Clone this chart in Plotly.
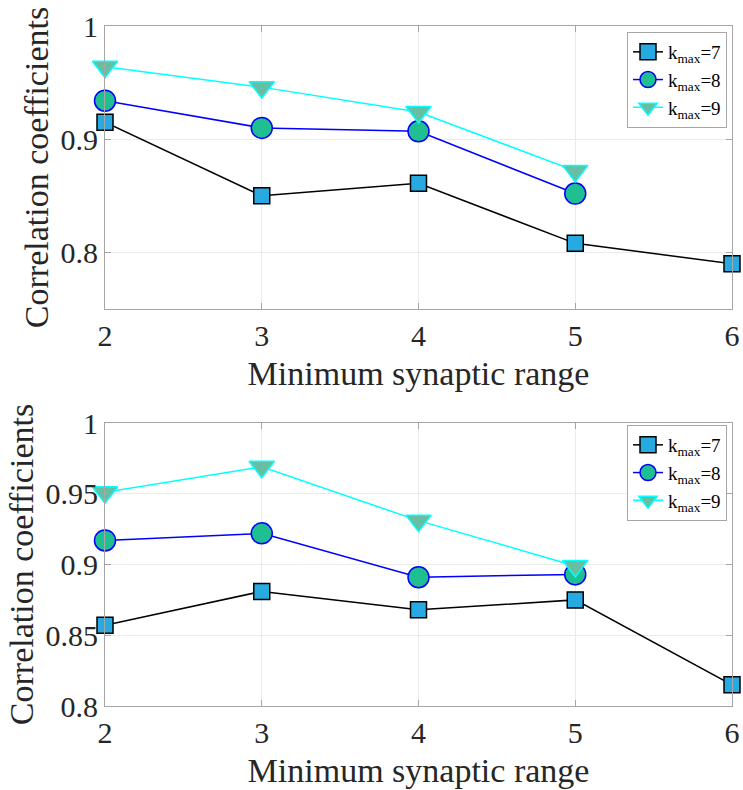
import plotly.graph_objects as go

# ---------------- data ----------------
x_top = [2, 3, 4, 5, 6]
x_short = [2, 3, 4, 5]
top_k7 = [0.915, 0.850, 0.861, 0.808, 0.790]
top_k8 = [0.934, 0.910, 0.907, 0.852]
top_k9 = [0.964, 0.946, 0.924, 0.872]
bot_k7 = [0.857, 0.881, 0.868, 0.875, 0.815]
bot_k8 = [0.917, 0.922, 0.891, 0.893]
bot_k9 = [0.951, 0.969, 0.931, 0.899]
series_names = ["k<sub>max</sub>=7", "k<sub>max</sub>=8", "k<sub>max</sub>=9"]
x_ticks = [2, 3, 4, 5, 6]
top_yticks = [0.8, 0.9, 1.0]
top_yticklabels = ["0.8", "0.9", "1"]
bot_yticks = [0.8, 0.85, 0.9, 0.95, 1.0]
bot_yticklabels = ["0.8", "0.85", "0.9", "0.95", "1"]
x_title = "Minimum synaptic range"
y_title = "Correlation coefficients"

FONT = "Liberation Serif"
TXT = "#262626"
W, H = 743, 790
ML, MR, MT, MB = 105, 11, 26, 84
PH = H - MT - MB

styles = [
    dict(line=dict(color="black", width=1.5),
         marker=dict(symbol="square", size=16, color="#27a9e1",
                     line=dict(color="black", width=1.5))),
    dict(line=dict(color="#0000ff", width=1.5),
         marker=dict(symbol="circle", size=21, color="#1fbf91",
                     line=dict(color="#0000ff", width=1.5))),
    dict(line=dict(color="#00ffff", width=1.5),
         marker=dict(symbol="triangle-down", size=22, color="#66bfa3",
                     line=dict(color="#00ffff", width=1.5))),
]

fig = go.Figure()
top_data = [(x_top, top_k7), (x_short, top_k8), (x_short, top_k9)]
bot_data = [(x_top, bot_k7), (x_short, bot_k8), (x_short, bot_k9)]

for i, (xs, ys) in enumerate(top_data):
    fig.add_trace(go.Scatter(x=xs, y=ys, mode="lines+markers", name=series_names[i],
                             xaxis="x", yaxis="y", legend="legend", cliponaxis=False,
                             **styles[i]))
for i, (xs, ys) in enumerate(bot_data):
    fig.add_trace(go.Scatter(x=xs, y=ys, mode="lines+markers", name=series_names[i],
                             xaxis="x2", yaxis="y2", legend="legend2", cliponaxis=False,
                             **styles[i]))

# domains in plot-area fractions (plot area = ML..W-MR, MT..H-MB in pixels)
top_dom = [1 - (309 - MT) / PH, 1.0]
bot_dom = [0.0, 1 - (423 - MT) / PH]

axis_common = dict(
    showline=True, linecolor="#a6a6a6", linewidth=1, mirror="ticks",
    ticks="inside", ticklen=6, tickcolor="#a6a6a6",
    showgrid=True, gridcolor="#ebebeb", gridwidth=1, zeroline=False,
    automargin=False,
    tickfont=dict(family=FONT, size=30, color=TXT),
)
title_font = dict(family=FONT, size=34, color=TXT)

legend_common = dict(
    x=727 / W, xanchor="right", xref="container", yanchor="top", yref="container",
    bgcolor="white", bordercolor="#a6a6a6", borderwidth=1,
    font=dict(family=FONT, size=19, color="black"),
    tracegroupgap=0, itemwidth=30,
)

fig.update_layout(
    width=W, height=H,
    margin=dict(l=ML, r=MR, t=MT, b=MB, autoexpand=False),
    paper_bgcolor="white", plot_bgcolor="white",
    font=dict(family=FONT, color=TXT),
    showlegend=True,
    xaxis=dict(domain=[0, 1], anchor="y", range=[2, 6], tickvals=x_ticks,
               title=dict(text=x_title, font=title_font, standoff=10),
               **axis_common),
    yaxis=dict(domain=top_dom, anchor="x", range=[0.75, 1.0], tickvals=top_yticks,
               ticktext=top_yticklabels,
               title=dict(text=y_title, font=title_font, standoff=1),
               **axis_common),
    xaxis2=dict(domain=[0, 1], anchor="y2", range=[2, 6], tickvals=x_ticks,
                title=dict(text=x_title, font=title_font, standoff=10),
                **axis_common),
    yaxis2=dict(domain=bot_dom, anchor="x2", range=[0.8, 1.0], tickvals=bot_yticks,
                ticktext=bot_yticklabels,
                title=dict(text=y_title, font=title_font, standoff=1),
                **axis_common),
    legend=dict(y=(H - 32) / H, **legend_common),
    legend2=dict(y=(H - 425) / H, **legend_common),
)

fig.write_html("out.html",
               config={"displayModeBar": False},
               post_script="document.body.style.margin='0';document.body.style.overflow='hidden';")
